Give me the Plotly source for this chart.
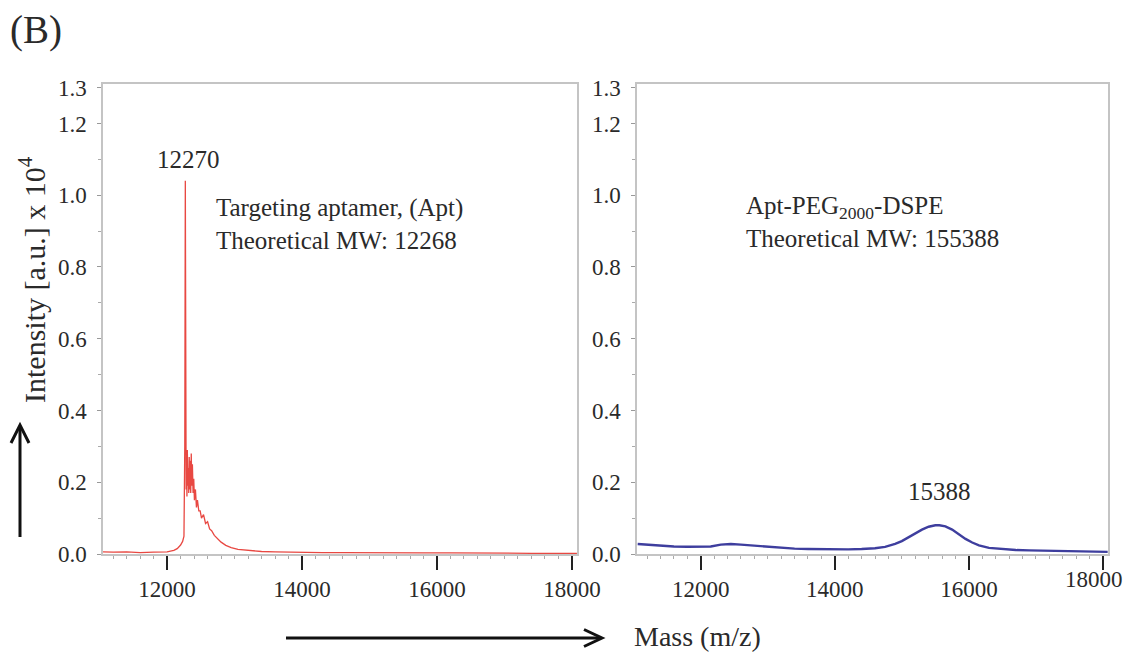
import plotly.graph_objects as go

# ---- data ----
mass_apt = [11050, 11200, 11400, 11600, 11800, 12000, 12100, 12150, 12200, 12230, 12250, 12262,
            12270, 12276, 12282, 12288, 12294, 12300, 12307, 12314, 12321, 12328, 12335, 12342,
            12350, 12358, 12366, 12375, 12385, 12395, 12405, 12420, 12435, 12450, 12470, 12490,
            12510, 12540, 12570, 12600, 12630, 12660, 12700, 12750, 12800, 12870, 12950, 13050,
            13200, 13400, 13600, 13800, 14000, 14300, 14600, 15000, 15400, 15800, 16200, 16600,
            17000, 17400, 17800, 18074]
int_apt = [0.006, 0.005, 0.006, 0.004, 0.005, 0.006, 0.010, 0.015, 0.025, 0.035, 0.05, 0.30,
           1.04, 0.35, 0.18, 0.27, 0.16, 0.29, 0.19, 0.24, 0.17, 0.27, 0.18, 0.26,
           0.17, 0.28, 0.19, 0.25, 0.17, 0.21, 0.15, 0.18, 0.13, 0.15, 0.12, 0.12,
           0.10, 0.11, 0.085, 0.09, 0.07, 0.065, 0.052, 0.042, 0.033, 0.024, 0.018, 0.013,
           0.010, 0.007, 0.006, 0.005, 0.005, 0.004, 0.004, 0.003, 0.004, 0.003, 0.003, 0.002,
           0.003, 0.002, 0.002, 0.002]

mass_conj = [11060, 11200, 11400, 11600, 11800, 12000, 12150, 12300, 12450, 12600, 12800, 13000,
             13200, 13400, 13600, 13800, 14000, 14200, 14400, 14600, 14750, 14900, 15000, 15100,
             15200, 15300, 15400, 15500, 15560, 15650, 15750, 15850, 15950, 16050, 16150, 16300,
             16500, 16700, 16900, 17200, 17500, 17800, 18070]
int_conj = [0.028, 0.026, 0.023, 0.021, 0.020, 0.020, 0.021, 0.026, 0.028, 0.026, 0.023, 0.020,
            0.017, 0.015, 0.014, 0.013, 0.013, 0.013, 0.014, 0.016, 0.020, 0.028, 0.036, 0.047,
            0.058, 0.068, 0.076, 0.080, 0.080, 0.077, 0.068, 0.055, 0.042, 0.032, 0.024, 0.017,
            0.013, 0.011, 0.010, 0.009, 0.008, 0.007, 0.006]

x_ticks = [12000, 14000, 16000, 18000]
x_ticktext = ["12000", "14000", "16000", "18000"]
y_ticks = [0.0, 0.2, 0.4, 0.6, 0.8, 1.0, 1.2, 1.3]
y_ticktext = ["0.0", "0.2", "0.4", "0.6", "0.8", "1.0", "1.2", "1.3"]

W, H = 1126, 653
FONT = "Liberation Serif, Times New Roman, serif"
TXT = "#2a2a2a"
TICKFONT = dict(family=FONT, size=23, color=TXT)

def px(x):
    return x / W

def py(y):
    return 1 - y / H

fig = go.Figure()
fig.add_trace(go.Scatter(x=mass_apt, y=int_apt, mode="lines",
                         line=dict(color="rgb(232,72,66)", width=1.3),
                         xaxis="x", yaxis="y", showlegend=False))
fig.add_trace(go.Scatter(x=mass_conj, y=int_conj, mode="lines",
                         line=dict(color="rgb(62,62,158)", width=2.4),
                         xaxis="x2", yaxis="y2", showlegend=False))

xcommon = dict(range=[11050, 18075], tickvals=x_ticks,
               ticks="outside", ticklen=14, tickwidth=2, tickcolor="#222",
               showline=True, mirror=True, linecolor="#c4c4c4", linewidth=1.5,
               showgrid=False, zeroline=False, automargin=False,
               tickfont=TICKFONT,
               minor=dict(dtick=200, tick0=12000, ticks="outside", ticklen=3,
                          tickcolor="#aaaaaa", tickwidth=1, showgrid=False))
ycommon = dict(range=[0, 1.31], tickvals=y_ticks, ticktext=y_ticktext,
               ticks="outside", ticklen=4, tickwidth=1, tickcolor="#999",
               showline=True, mirror=True, linecolor="#c4c4c4", linewidth=1.5,
               showgrid=False, zeroline=False, automargin=False,
               tickfont=TICKFONT, ticklabelstandoff=6,
               minor=dict(dtick=0.1, tick0=0, ticks="outside", ticklen=3,
                          tickcolor="#aaaaaa", tickwidth=1, showgrid=False))

# right panel: last label sits at the page edge, so it is drawn as an annotation below
right_ticktext = x_ticktext[:-1] + [""]

fig.update_layout(
    width=W, height=H,
    margin=dict(l=0, r=0, t=0, b=0, autoexpand=False),
    paper_bgcolor="white", plot_bgcolor="white",
    xaxis=dict(domain=[px(103), px(577)], anchor="y", ticktext=x_ticktext, **xcommon),
    yaxis=dict(domain=[py(554), py(84)], anchor="x", **ycommon),
    xaxis2=dict(domain=[px(637), px(1108)], anchor="y2", ticktext=right_ticktext, **xcommon),
    yaxis2=dict(domain=[py(554), py(84)], anchor="x2", **ycommon),
)

ann = []
ann.append(dict(x=x_ticks[-1], y=py(565), xref="x2", yref="paper", text=x_ticktext[-1],
                showarrow=False, font=TICKFONT, xanchor="right", xshift=22, yanchor="top"))
ann.append(dict(x=12320, y=1.10, xref="x", yref="y", text="12270", showarrow=False,
                font=dict(family=FONT, size=25, color=TXT), xanchor="center", yanchor="middle"))
ann.append(dict(x=12690, y=0.92, xref="x", yref="y",
                text="Targeting aptamer, (Apt)<br>Theoretical MW: 12268", showarrow=False,
                align="left", font=dict(family=FONT, size=25, color=TXT),
                xanchor="left", yanchor="middle"))
ann.append(dict(x=12650, y=0.925, xref="x2", yref="y2",
                text="Apt-PEG<sub>2000</sub>-DSPE<br>Theoretical MW: 155388", showarrow=False,
                align="left", font=dict(family=FONT, size=25, color=TXT),
                xanchor="left", yanchor="middle"))
ann.append(dict(x=15560, y=0.175, xref="x2", yref="y2", text="15388", showarrow=False,
                font=dict(family=FONT, size=25, color=TXT), xanchor="center", yanchor="middle"))
# panel tag
ann.append(dict(x=px(8), y=py(30), xref="paper", yref="paper", text="(B)", showarrow=False,
                font=dict(family=FONT, size=39, color=TXT), xanchor="left", yanchor="middle"))
# axis titles
ann.append(dict(x=px(32), y=py(280), xref="paper", yref="paper",
                text="Intensity [a.u.] x 10<sup>4</sup>", showarrow=False, textangle=-90,
                font=dict(family=FONT, size=30, color=TXT), xanchor="center", yanchor="middle"))
ann.append(dict(x=px(632), y=py(636), xref="paper", yref="paper", text="Mass (m/z)",
                showarrow=False, font=dict(family=FONT, size=28, color=TXT),
                xanchor="left", yanchor="middle"))
fig.update_layout(annotations=ann)

# arrows drawn as shapes
ARW = dict(color="#111111", width=3)
shapes = [
    dict(type="line", xref="paper", yref="paper", x0=px(20), y0=py(537), x1=px(20), y1=py(426), line=ARW),
    dict(type="path", xref="paper", yref="paper",
         path=f"M {px(11)},{py(443)} L {px(20)},{py(425)} L {px(29)},{py(443)}", line=ARW),
    dict(type="line", xref="paper", yref="paper", x0=px(286), y0=py(638), x1=px(601), y1=py(638), line=ARW),
    dict(type="path", xref="paper", yref="paper",
         path=f"M {px(584)},{py(629.5)} L {px(602)},{py(638)} L {px(584)},{py(646.5)}", line=ARW),
]
fig.update_layout(shapes=shapes)

fig.write_html("out.html")
